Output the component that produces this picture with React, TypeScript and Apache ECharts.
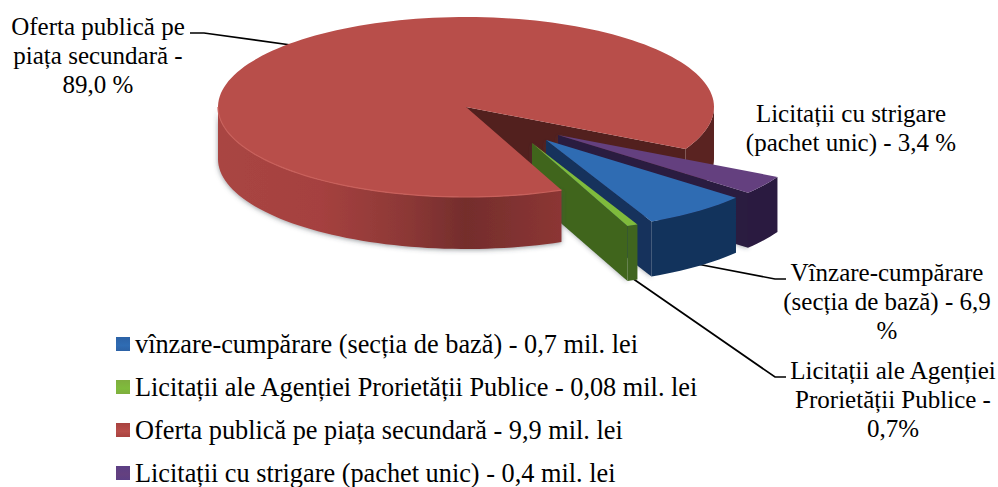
import React, { useEffect, useRef } from "react";
import * as echarts from "echarts";

const categories = [
  "vînzare-cumpărare (secția de bază) - 0,7 mil. lei",
  "Licitații ale Agenției Prorietății Publice - 0,08 mil. lei",
  "Oferta publică pe piața secundară - 9,9 mil. lei",
  "Licitații cu strigare (pachet unic) - 0,4 mil. lei",
];
const shares = [6.9, 0.7, 89.0, 3.4];
const topColors = ["#2f6cb3", "#7fbb3c", "#b84e4a", "#64407f"];
const wallColors = ["#12335c", "#40651f", "#6f2b29", "#2a1a40"];
const iconColors = ["#2c62a6", "#7fae3e", "#a8423f", "#5c3f85"];
const drawOrder = [2, 3, 0, 1];
const offsets = [[80, 33], [66, 36], [0, 0], [92, 28]];
const depths = [55, 55, 52, 55];
const layers = [3, 4, 10, 2];

const FONT = '"Liberation Serif", "Times New Roman", serif';
const CX = 466, CY = 107, RX = 248, RY = 90, START = 40;

function deg(i: number) {
  let s = START;
  for (let k = 0; k < i; k++) s += (shares[k] / 100) * 360;
  return [s, s + (shares[i] / 100) * 360];
}

function arc(a0: number, a1: number, ox: number, oy: number) {
  const n = Math.max(2, Math.ceil(Math.abs(a1 - a0) / 2));
  const pts: number[][] = [];
  for (let k = 0; k <= n; k++) {
    const a = ((a0 + ((a1 - a0) * k) / n) * Math.PI) / 180;
    pts.push([ox + RX * Math.cos(a), oy + RY * Math.sin(a)]);
  }
  return pts;
}

function wallPolygon(a0: number, a1: number, ox: number, oy: number, depth: number, style: any, z2: number) {
  const up = arc(a0, a1, ox, oy);
  const down = arc(a1, a0, ox, oy + depth);
  return { type: "polygon", z2, shape: { points: [...up, ...down] }, style };
}

function makeItem(i: number) {
  return () => {
    const [a0, a1] = deg(i);
    const ox = CX + offsets[i][0], oy = CY + offsets[i][1];
    const depth = depths[i];
    const layer = layers[i];
    const children: any[] = [];
    const top = topColors[i], wall = wallColors[i];
    const end = arc(a1, a1, ox, oy)[0];
    const cutPoints = [[ox, oy], end, [end[0], end[1] + depth], [ox, oy + depth]];
    if (i === 2) {
      children.push({ type: "polygon", z2: 0, shape: { points: cutPoints }, style: { fill: "#52201e" } });
      children.push(wallPolygon(360, a1, ox, oy, depth, { fill: "#5a2321" }, 0));
      const frontGrad = new echarts.graphic.LinearGradient(0, 0, 1, 0, [
        { offset: 0, color: "#a94543" },
        { offset: 0.3, color: "#a5413f" },
        { offset: 0.55, color: "#8c3836" },
        { offset: 0.72, color: "#742d2c" },
        { offset: 1, color: "#8c3634" },
      ]);
      children.push(
        wallPolygon(180, a0, ox, oy, depth, {
          fill: frontGrad,
          shadowBlur: 5,
          shadowColor: "rgba(60,70,80,0.55)",
          shadowOffsetY: 1,
        }, layer)
      );
    } else {
      children.push({
        type: "polygon",
        z2: layer,
        shape: { points: cutPoints },
        style: { fill: wall, shadowBlur: 4, shadowColor: "rgba(60,70,80,0.4)", shadowOffsetY: 1 },
      });
      children.push(wallPolygon(a0, a1, ox, oy, depth, { fill: wall }, layer));
    }
    children.push({
      type: "polygon",
      z2: layer,
      shape: { points: [[ox, oy], ...arc(a0, a1, ox, oy)] },
      style: { fill: top },
    });
    if (i === 2) {
      children.push({
        type: "polyline",
        z2: layer,
        shape: { points: arc(180, a0, ox, oy) },
        style: { stroke: "#c8605b", lineWidth: 1.2, fill: "none" },
      });
    }
    return { type: "group", children };
  };
}

function textEl(x: number, y: number, text: string) {
  return {
    type: "text",
    x,
    y,
    style: {
      text,
      fontFamily: FONT,
      fontSize: 25,
      lineHeight: 29,
      fill: "#000",
      align: "center",
      verticalAlign: "middle",
    },
  };
}

function leader(points: number[][]) {
  return {
    type: "polyline",
    shape: { points },
    style: { stroke: "#000", lineWidth: 1.7, fill: "none" },
  };
}

export default function App() {
  const ref = useRef<HTMLDivElement>(null);
  useEffect(() => {
    const chart = echarts.init(ref.current!, undefined, { renderer: "svg" });
    chart.setOption({
      animation: false,
      backgroundColor: "#fff",
      legend: {
        orient: "vertical",
        left: 116,
        top: 331,
        height: 156,
        padding: 0,
        itemWidth: 14,
        itemHeight: 14,
        itemGap: 17,
        icon: "rect",
        selectedMode: false,
        textStyle: { fontFamily: FONT, fontSize: 26.3, color: "#000", lineHeight: 26 },
        data: categories.map((name, i) => ({
          name,
          itemStyle: {
            color: new echarts.graphic.LinearGradient(0, 0, 0, 1, [
              { offset: 0, color: iconColors[i] },
              { offset: 0.6, color: topColors[i] },
              { offset: 1, color: iconColors[i] },
            ]),
          },
        })),
      },
      graphic: [
        textEl(98, 55, "Oferta publică pe\npiața secundară -\n89,0 %"),
        textEl(851, 128, "Licitații cu strigare\n(pachet unic) - 3,4 %"),
        textEl(887, 301, "Vînzare-cumpărare\n(secția de bază) - 6,9\n%"),
        textEl(893, 399, "Licitații ale Agenției\nProrietății Publice -\n0,7%"),
        leader([[190, 33], [204, 33], [298, 46]]),
        leader([[697, 264], [775, 279], [786, 279]]),
        leader([[632, 278], [775, 377], [786, 377]]),
      ],
      series: drawOrder.map((i) => ({
        type: "custom",
        name: categories[i],
        coordinateSystem: "none",
        silent: true,
        itemStyle: { color: topColors[i] },
        data: [shares[i]],
        renderItem: makeItem(i),
      })),
    });
    return () => chart.dispose();
  }, []);
  return <div ref={ref} style={{ width: 998, height: 487, position: "absolute", left: 0, top: 0 }} />;
}
